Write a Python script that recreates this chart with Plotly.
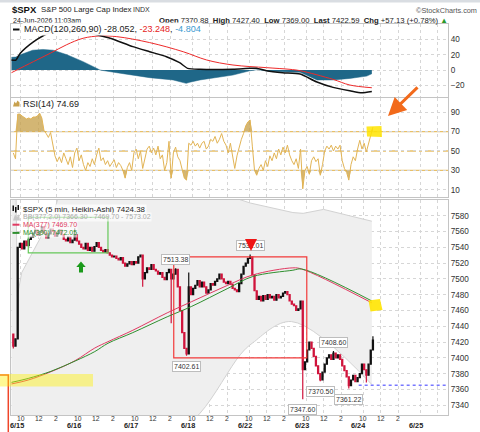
import plotly.graph_objects as go

# ------------------------------------------------------------------ data
days = ["6/15", "6/16", "6/17", "6/18", "6/22", "6/23", "6/24", "6/25"]
hour_labels = ["10", "12", "2"]
hour_offsets = [6, 30, 54]          # 5-min bars after the 9:30 open
BARS_PER_DAY = 78                   # 5-min bars per session

# header values
hdr_date = "24-Jun-2026 11:03am"
hdr_open, hdr_high, hdr_low, hdr_last = 7370.88, 7427.40, 7369.00, 7422.59
hdr_chg, hdr_pct = 57.13, 0.78
prev_close = 7365.46
ha_last = 7424.38

# Heikin-Ashi closes, one value per 15-minute bar
pre_open = 7430.0
close_0612 = [7415, 7424]           # last two bars of 6/12
close_0615 = [7540, 7545, 7538, 7548, 7542, 7550, 7553, 7558, 7562, 7555, 7560, 7566, 7558,
              7552, 7557, 7563, 7560, 7554, 7558, 7562, 7556, 7550, 7548, 7553, 7546, 7549]
close_0616 = [7556, 7548, 7544, 7540, 7538, 7545, 7536, 7540, 7535, 7541, 7546, 7540, 7536,
              7534, 7537, 7533, 7530, 7528, 7529, 7526, 7524, 7527, 7520, 7516, 7519, 7522]
close_0617 = [7518, 7522, 7520, 7528, 7530, 7500, 7508, 7514, 7512, 7518, 7512, 7510, 7506,
              7508, 7502, 7499, 7508, 7512, 7500, 7506, 7512, 7490, 7460, 7432, 7412, 7405]
close_0618 = [7490, 7480, 7488, 7492, 7498, 7490, 7496, 7490, 7482, 7486, 7494, 7492, 7497,
              7500, 7506, 7500, 7496, 7494, 7497, 7493, 7488, 7486, 7484, 7494, 7506, 7516]
close_0622 = [7520, 7526, 7528, 7505, 7485, 7474, 7478, 7472, 7479, 7474, 7480, 7476, 7478,
              7473, 7480, 7476, 7478, 7482, 7484, 7480, 7472, 7468, 7466, 7460, 7462, 7472]
close_0623 = [7385, 7395, 7410, 7420, 7412, 7402, 7390, 7380, 7372, 7382, 7392, 7400, 7404,
              7398, 7406, 7400, 7404, 7398, 7390, 7384, 7376, 7365, 7372, 7378, 7370, 7375]
close_0624 = [7380, 7392, 7385, 7378, 7392, 7410, 7422.59]

# wicks (day, 15-min bar, price)
wick_high = [("6/16", 0, 7564.0), ("6/17", 20, 7513.38), ("6/18", 0, 7508.0),
             ("6/22", 2, 7531.01), ("6/23", 14, 7408.60), ("6/24", 6, 7427.40)]
wick_low = [("6/12", 24, 7412.0), ("6/17", 5, 7490.0), ("6/17", 18, 7444.0),
            ("6/17", 25, 7402.61), ("6/23", 0, 7347.60), ("6/23", 8, 7370.50),
            ("6/23", 21, 7361.22), ("6/24", 3, 7369.00)]
price_labels = [("6/17", 20, 7513.38, "up"), ("6/17", 25, 7402.61, "down"),
                ("6/22", 2, 7531.01, "up"), ("6/23", 0, 7347.60, "down"),
                ("6/23", 8, 7370.50, "down"), ("6/23", 14, 7408.60, "up"),
                ("6/23", 21, 7361.22, "down")]

# RSI(14), one value per 15-minute bar
rsi_0612 = [48, 42]
rsi_0615 = [88, 88, 86, 84, 83, 84, 83, 85, 85, 86, 89, 84, 71, 68, 64, 69, 58, 45, 39, 44, 38, 48, 42, 36, 44, 33]
rsi_0616 = [48, 53, 40, 46, 36, 30, 38, 34, 42, 36, 46, 53, 40, 43, 36, 40, 34, 38, 41, 33, 38, 35, 30, 22, 33, 38]
rsi_0617 = [30, 48, 52, 42, 50, 32, 44, 52, 55, 48, 53, 46, 55, 42, 46, 30, 38, 60, 22, 48, 54, 44, 40, 30, 22, 20]
rsi_0618 = [58, 56, 60, 55, 58, 53, 58, 60, 52, 55, 62, 60, 65, 58, 62, 68, 60, 56, 48, 58, 44, 32, 45, 55, 62, 68]
rsi_0622 = [76, 80, 82, 55, 30, 25, 32, 36, 30, 40, 34, 45, 40, 48, 42, 52, 46, 54, 48, 56, 46, 40, 36, 42, 32, 52]
rsi_0623 = [11, 30, 34, 26, 40, 44, 39, 42, 25, 36, 50, 55, 52, 56, 50, 55, 52, 56, 40, 32, 28, 20, 36, 44, 40, 52]
rsi_0624 = [61, 52, 58, 49, 58, 68, 74.69]

# moving averages (x = 5-min bar index from the 6/15 open)
ma_idx = [-7, 16, 47, 80, 107, 125, 159, 206, 239, 289, 323, 378, 390, 486]
ma377 = [7367, 7372, 7382.5, 7396.5, 7412.5, 7420.5, 7435, 7457, 7471, 7492, 7505, 7514, 7512.5, 7469.70]
ma390 = [7369, 7374, 7383, 7396, 7408, 7418.5, 7432, 7452, 7465, 7488, 7503, 7511, 7512.5, 7472.05]

# Bollinger bands
bb_up_idx = [-7, -1, 1, 7, 50, 60, 150, 250, 300, 320, 378, 392, 420, 486]
bb_up = [7625, 7625, 7478, 7508, 7582, 7612, 7640, 7625, 7602, 7596, 7584, 7583, 7588, 7573.02]
bb_lo_idx = [-7, 100, 200, 251, 306, 323, 376, 486]
bb_lo = [7250, 7240, 7290, 7330, 7404, 7419, 7446, 7366.30]

# MACD(120,260,90)
macd_idx = [-7, -1, 5, 23, 43, 68, 91, 103, 128, 159, 182, 205, 223, 234, 251, 296, 319, 328,
            342, 364, 388, 410, 433, 456, 472, 486]
macd_vals = [13.2, 13.0, 22.0, 37.0, 48.0, 52.5, 52.0, 48.0, 41.7, 30.7, 24.0, 17.5, 9.6, 2.2,
             0.9, 1.0, 2.2, 2.2, -0.9, -3.5, -5.3, -15.4, -22.8, -27.2, -29.8, -28.052]
signal_idx = [-7, 23, 46, 68, 91, 114, 137, 182, 228, 260, 296, 342, 374, 388, 433, 456, 486]
signal_vals = [-3.5, 11.0, 22.0, 33.0, 41.7, 44.7, 43.8, 36.0, 24.0, 13.2, 6.6, 3.1, 0.9, -0.9,
               -12.3, -19.7, -23.248]
hist_idx = [-7, -1, 5, 22, 36, 50, 69, 91, 110, 114, 137, 182, 214, 232, 237, 251, 296, 319,
            330, 347, 388, 401, 411, 433, 456, 479, 486]
hist_vals = [16.7, 17, 20, 26, 27, 26, 20, 11, 2, 0, -3.5, -10, -13, -17.5, -16, -13, -6.6, -1,
             0.5, -2, -3, -9, -13, -13, -11, -8, -4.804]

# ------------------------------------------------------------------ build series
day_pos = {d: i for i, d in enumerate(days)}
day_pos["6/12"] = -1
segments = [("6/12", 24, close_0612, rsi_0612), ("6/15", 0, close_0615, rsi_0615),
            ("6/16", 0, close_0616, rsi_0616), ("6/17", 0, close_0617, rsi_0617),
            ("6/18", 0, close_0618, rsi_0618), ("6/22", 0, close_0622, rsi_0622),
            ("6/23", 0, close_0623, rsi_0623), ("6/24", 0, close_0624, rsi_0624)]


def bar_x(day, k):
    return day_pos[day] * BARS_PER_DAY + 3 * k + 1.5


xs, o, h, l, c, rsi = [], [], [], [], [], []
prev = pre_open
keyed = {}
for day, k0, cl, rs in segments:
    for j, (v, r) in enumerate(zip(cl, rs)):
        k = k0 + j
        xs.append(bar_x(day, k))
        o.append(prev)
        c.append(v)
        h.append(max(prev, v))
        l.append(min(prev, v))
        rsi.append(r)
        keyed[(day, k)] = len(xs) - 1
        prev = v
for day, k, v in wick_high:
    i = keyed[(day, k)]
    h[i] = max(h[i], v)
for day, k, v in wick_low:
    i = keyed[(day, k)]
    l[i] = min(l[i], v)

# ------------------------------------------------------------------ geometry helpers
L, R, T, B = 11, 32, 24, 17
W, H = 480, 432
PW, PH = W - L - R, H - T - B


def pxx(px):
    return (px - L) / PW


def pxy(py):
    return (H - B - py) / PH


def ppath(pts):
    return "M " + " L ".join(f"{pxx(a):.5f},{pxy(b):.5f}" for a, b in pts) + " Z"


X_RANGE = [-7.66, 590.2]
P_RANGE = [7327.7, 7599.9]
grid_vals = [d * BARS_PER_DAY + off for d in range(len(days)) for off in hour_offsets]
FONT = "Liberation Sans, Arial, sans-serif"
GRID = "#d6d6d6"
BORDER = "#c4c4c4"

fig = go.Figure()

# ---------------- MACD panel
fig.add_trace(go.Scatter(x=hist_idx, y=hist_vals, mode="lines", fill="tozeroy",
                         line=dict(color="#1f6788", width=0.5), fillcolor="#1f6788",
                         xaxis="x", yaxis="y", hoverinfo="skip"))
fig.add_trace(go.Scatter(x=signal_idx, y=signal_vals, mode="lines",
                         line=dict(color="#ee2a2a", width=1, shape="spline"),
                         xaxis="x", yaxis="y", hoverinfo="skip"))
fig.add_trace(go.Scatter(x=macd_idx, y=macd_vals, mode="lines",
                         line=dict(color="#111111", width=1.5, shape="spline", smoothing=0.6),
                         xaxis="x", yaxis="y", hoverinfo="skip"))

# ---------------- RSI panel
RSI_FILL = "rgba(196,158,70,0.75)"
fig.add_trace(go.Scatter(x=xs, y=[70] * len(xs), mode="lines", line=dict(width=0),
                         xaxis="x2", yaxis="y2", hoverinfo="skip"))
fig.add_trace(go.Scatter(x=xs, y=[max(v, 70) for v in rsi], mode="lines", line=dict(width=0),
                         fill="tonexty", fillcolor=RSI_FILL, xaxis="x2", yaxis="y2",
                         hoverinfo="skip"))
fig.add_trace(go.Scatter(x=xs, y=[30] * len(xs), mode="lines", line=dict(width=0),
                         xaxis="x2", yaxis="y2", hoverinfo="skip"))
fig.add_trace(go.Scatter(x=xs, y=[min(v, 30) for v in rsi], mode="lines", line=dict(width=0),
                         fill="tonexty", fillcolor=RSI_FILL, xaxis="x2", yaxis="y2",
                         hoverinfo="skip"))
fig.add_trace(go.Scatter(x=xs, y=rsi, mode="lines", line=dict(color="#e2b455", width=1),
                         xaxis="x2", yaxis="y2", hoverinfo="skip"))

# ---------------- price panel (bands on base axis, candles + MAs on overlay axis above)
fig.add_trace(go.Scatter(x=bb_lo_idx, y=bb_lo, mode="lines",
                         line=dict(color="#d2d2d2", width=1, shape="spline"),
                         xaxis="x3", yaxis="y3", hoverinfo="skip"))
fig.add_trace(go.Scatter(x=bb_up_idx, y=bb_up, mode="lines", fill="tonexty",
                         fillcolor="#efefef", line=dict(color="#d2d2d2", width=1),
                         xaxis="x3", yaxis="y3", hoverinfo="skip"))
fig.add_trace(go.Candlestick(x=xs, open=o, high=h, low=l, close=c,
                             increasing=dict(line=dict(color="#111111", width=1.2), fillcolor="#111111"),
                             decreasing=dict(line=dict(color="#d0143c", width=1.2), fillcolor="#d0143c"),
                             whiskerwidth=0, xaxis="x3", yaxis="y4", hoverinfo="skip"))
fig.add_trace(go.Scatter(x=ma_idx, y=ma377, mode="lines",
                         line=dict(color="#e03a62", width=1, shape="spline"),
                         xaxis="x3", yaxis="y4", hoverinfo="skip"))
fig.add_trace(go.Scatter(x=ma_idx, y=ma390, mode="lines",
                         line=dict(color="#2f8f2f", width=1, shape="spline"),
                         xaxis="x3", yaxis="y4", hoverinfo="skip"))
fig.add_trace(go.Scatter(x=[6 * BARS_PER_DAY, X_RANGE[1]], y=[prev_close, prev_close], mode="lines",
                         line=dict(color="#7878ff", width=1.5, dash="dot"),
                         xaxis="x3", yaxis="y4", hoverinfo="skip"))

# ------------------------------------------------------------------ axes
def xax(anchor):
    return dict(domain=[0, 1], anchor=anchor, range=X_RANGE, tickvals=grid_vals,
                showticklabels=False, ticks="", showgrid=True, gridcolor=GRID, griddash="dot",
                gridwidth=1, showline=True, mirror=True, linecolor=BORDER, linewidth=1,
                zeroline=False, fixedrange=True)


def yax(anchor, dom, rng, vals):
    return dict(domain=dom, anchor=anchor, range=rng, side="right", tickvals=vals,
                tickfont=dict(size=8.2, color="#333333", family=FONT), ticks="",
                showgrid=True, gridcolor=GRID, griddash="dot", showline=True, mirror=True,
                linecolor=BORDER, linewidth=1, zeroline=False, fixedrange=True)


price_ticks = list(range(7340, 7581, 20))
fig.update_layout(
    width=W, height=H, margin=dict(l=L, r=R, t=T, b=B),
    paper_bgcolor="white", plot_bgcolor="white", showlegend=False,
    font=dict(family=FONT, size=8, color="#222222"), hovermode=False,
    xaxis=xax("y"), xaxis2=xax("y2"), xaxis3=dict(xax("y3"), rangeslider=dict(visible=False)),
    yaxis=yax("x", [pxy(97), 1.0], [-35.4, 60.4], [-20, 0, 20, 40]),
    yaxis2=yax("x2", [pxy(197), pxy(98)], [2.6, 104.6], [10, 30, 50, 70, 90]),
    yaxis3=yax("x3", [0, pxy(200)], P_RANGE, price_ticks),
    yaxis4=dict(overlaying="y3", anchor="x3", range=P_RANGE, side="right", showgrid=False,
                showticklabels=False, ticks="", showline=False, zeroline=False, fixedrange=True),
)

shapes = []
ann = []

# RSI reference lines
for lvl, dash in [(70, "solid"), (30, "solid"), (50, "dashdot")]:
    shapes.append(dict(type="line", xref="x2", yref="y2", x0=X_RANGE[0], x1=X_RANGE[1],
                       y0=lvl, y1=lvl, line=dict(color="#e8c068", width=1.3, dash=dash),
                       layer="below"))

# drawn boxes
shapes.append(dict(type="rect", xref="x3", yref="y3", x0=16, x1=125, y0=7533, y1=7578,
                   line=dict(color="#66c85a", width=1.2), layer="above"))
shapes.append(dict(type="rect", xref="x3", yref="y3", x0=215, x1=397, y0=7400, y1=7528,
                   line=dict(color="#f23a3a", width=1.2), layer="above"))
# partial box left of the plot
shapes.append(dict(type="path", xref="paper", yref="paper",
                   path=f"M {pxx(0)},{pxy(375)} L {pxx(8.3)},{pxy(375)} L {pxx(8.3)},{pxy(432)}",
                   line=dict(color="#f0452a", width=1.5)))

# yellow highlights
shapes.append(dict(type="rect", xref="paper", yref="paper", x0=pxx(0), x1=pxx(93),
                   y0=pxy(386.5), y1=pxy(374), fillcolor="rgba(255,240,0,0.42)",
                   line=dict(width=0), layer="above"))
shapes.append(dict(type="path", xref="paper", yref="paper",
                   path=ppath([(368.5, 300.5), (380, 299), (382.5, 310), (370.5, 311.5)]),
                   fillcolor="rgba(255,228,0,0.9)", line=dict(width=0), layer="above"))
shapes.append(dict(type="path", xref="paper", yref="paper",
                   path=ppath([(366.5, 126.5), (381.5, 126), (382, 137), (367, 136.5)]),
                   fillcolor="rgba(255,228,0,0.85)", line=dict(width=0), layer="above"))

# green block arrow
shapes.append(dict(type="path", xref="paper", yref="paper",
                   path=ppath([(79, 272.5), (79, 267), (76.3, 267), (81, 261.5), (85.7, 267),
                               (83, 267), (83, 272.5)]),
                   fillcolor="#1b9a1b", line=dict(width=0), layer="above"))

# top band
shapes.append(dict(type="rect", xref="paper", yref="paper", x0=pxx(0), x1=pxx(480),
                   y0=pxy(2.5), y1=pxy(0), fillcolor="#d9dde2", line=dict(width=0)))

# legend icons
shapes.append(dict(type="line", xref="paper", yref="paper", x0=pxx(13), x1=pxx(19.5),
                   y0=pxy(29.5), y1=pxy(29.5), line=dict(color="#111", width=2)))
shapes.append(dict(type="path", xref="paper", yref="paper",
                   path=ppath([(13, 106.5), (14.5, 101.5), (16, 103.5), (17.5, 100.5), (19.5, 102.5),
                               (19.5, 106.5)]), fillcolor="#c8a14e", line=dict(width=0)))
for (a, b, cc, d) in [(12.5, 205.5, 14, 211), (15, 207, 16.5, 212.5), (17.5, 205, 19, 210)]:
    shapes.append(dict(type="rect", xref="paper", yref="paper", x0=pxx(a), x1=pxx(cc),
                       y0=pxy(d), y1=pxy(b), fillcolor="#111", line=dict(width=0)))
shapes.append(dict(type="path", xref="paper", yref="paper",
                   path=ppath([(13, 220.5), (15, 214.5), (17, 217), (19, 214), (20, 220.5)]),
                   fillcolor="#c8c8c8", line=dict(width=0)))
shapes.append(dict(type="line", xref="paper", yref="paper", x0=pxx(12.5), x1=pxx(19.5),
                   y0=pxy(224.7), y1=pxy(224.7), line=dict(color="#e03a62", width=2)))
shapes.append(dict(type="line", xref="paper", yref="paper", x0=pxx(12.5), x1=pxx(19.5),
                   y0=pxy(232.9), y1=pxy(232.9), line=dict(color="#2f8f2f", width=2)))

# ------------------------------------------------------------------ text
def txt(px, py, text, size=8.0, color="#222222", xanchor="left", bg=None, pad=0):
    d = dict(xref="paper", yref="paper", x=pxx(px), y=pxy(py), text=text, showarrow=False,
             xanchor=xanchor, yanchor="middle", font=dict(size=size, color=color, family=FONT),
             borderpad=pad)
    if bg:
        d["bgcolor"] = bg
    ann.append(d)


txt(11, 9.5, "<b>$SPX</b>", size=9.5, color="#111")
txt(39.5, 9.5, "S&P 500 Large Cap Index", size=7.8, color="#222")
txt(132, 9.5, "INDX", size=7, color="#333")
txt(478, 10.5, "©StockCharts.com", size=7.3, color="#555", xanchor="right")
txt(11.5, 20, hdr_date, size=7, color="#222")
txt(448.5, 20, f"<b>Open</b> {hdr_open:.2f}&nbsp; <b>High</b> {hdr_high:.2f}&nbsp; "
    f"<b>Low</b> {hdr_low:.2f}&nbsp; <b>Last</b> {hdr_last:.2f}&nbsp; <b>Chg</b> +{hdr_chg:.2f} "
    f"(+{hdr_pct:.2f}%) <span style='color:#2a9a2a'>▲</span>", size=7.7, color="#222",
    xanchor="right")

txt(21.5, 29.5, f"MACD(120,260,90) {macd_vals[-1]:.3f}, <span style='color:#e52222'>"
    f"{signal_vals[-1]:.3f}</span>, <span style='color:#3a9ad0'>{hist_vals[-1]:.3f}</span>",
    size=9, color="#222", bg="rgba(255,255,255,0.95)", pad=1)
txt(21.5, 103.5, f"RSI(14) {rsi_0624[-1]:.2f}", size=9, color="#222",
    bg="rgba(255,255,255,0.9)")
txt(21.5, 209, f"$SPX (5 min, Heikin-Ashi) {ha_last:.2f}", size=7.9, color="#222",
    bg="rgba(255,255,255,0.75)")
txt(21.5, 217.3, f"BB(377,2.0) {bb_lo[-1]:.2f} - {ma377[-1]:.2f} - {bb_up[-1]:.2f}", size=7,
    color="#aaaaaa", bg="rgba(255,255,255,0.6)")
txt(21.5, 224.7, f"MA(377) {ma377[-1]:.2f}", size=7, color="#e03a62", bg="rgba(255,255,255,0.6)")
txt(21.5, 232.9, f"MA(390) {ma390[-1]:.2f}", size=7, color="#2f8f2f", bg="rgba(255,255,255,0.6)")

# price labels
for day, k, v, side in price_labels:
    ann.append(dict(xref="x3", yref="y3", x=bar_x(day, k), y=v, text=f"{v:.2f}",
                    showarrow=False, xanchor="center",
                    yanchor="bottom" if side == "up" else "top",
                    yshift=3 if side == "up" else -5,
                    font=dict(size=7, color="#333", family=FONT), bgcolor="white",
                    bordercolor="#bdbdbd", borderwidth=1, borderpad=1))

# red down arrow drawn over the 6/22 high label
ann.append(dict(xref="paper", yref="paper", x=pxx(251), y=pxy(251), text="", showarrow=True,
                ax=0, ay=-13, arrowhead=2, arrowsize=0.6, arrowwidth=4, arrowcolor="#ee1515",
                standoff=0))

# x-axis labels
for d, day in enumerate(days):
    ann.append(dict(xref="x3", yref="paper", x=d * BARS_PER_DAY, y=pxy(425.5), text=f"<b>{day}</b>",
                    showarrow=False, xanchor="center", yanchor="middle",
                    font=dict(size=7.3, color="#222", family=FONT)))
    if d < len(days) - 1:
        for lab, off in zip(hour_labels, hour_offsets):
            ann.append(dict(xref="x3", yref="paper", x=d * BARS_PER_DAY + off, y=pxy(418.5),
                            text=lab, showarrow=False, xanchor="center", yanchor="middle",
                            font=dict(size=6.8, color="#333", family=FONT)))

# orange pointer arrow
ann.append(dict(xref="paper", yref="paper", x=pxx(388), y=pxy(116), text="", showarrow=True,
                ax=31, ay=-30, arrowhead=2, arrowsize=1.2, arrowwidth=3, arrowcolor="#f26a1b"))

fig.update_layout(shapes=shapes, annotations=ann)
fig.write_html("out.html", config={"displayModeBar": False},
               post_script="document.body.style.margin='0px';")
